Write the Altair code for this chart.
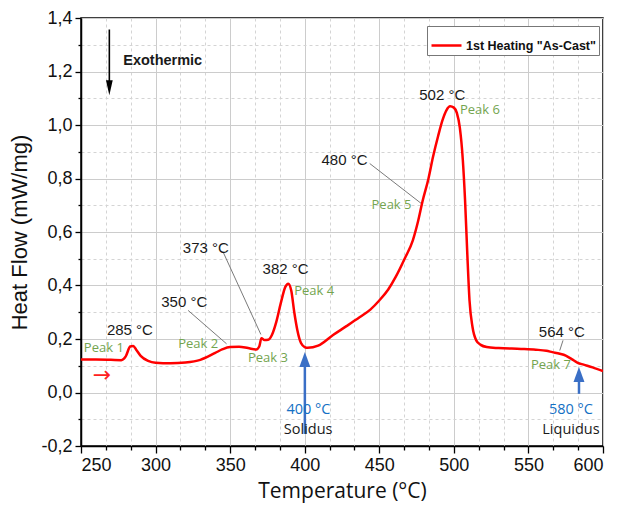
import altair as alt
import pandas as pd

# ---------------- data ----------------
temperature = [250, 260, 270, 277, 280, 283, 285, 287, 290, 295, 300, 310, 320, 330, 340, 345,
               350, 356, 362, 367.5, 369.5, 371, 373, 375.5, 378, 381, 384, 387, 389, 391, 393,
               395, 397.5, 400, 402, 409, 419, 428, 437, 444, 450, 456, 461, 467, 472.5, 476,
               479, 483, 486, 489.5, 492.5, 495, 497.5, 500, 502, 504, 506, 507.5, 509, 510.5,
               512.5, 515, 518, 522, 530, 545, 555, 562, 566, 571, 575, 579, 583, 587, 593, 600]
heat_flow = [0.123, 0.123, 0.122, 0.121, 0.135, 0.172, 0.174, 0.160, 0.137, 0.118, 0.111, 0.109,
             0.112, 0.122, 0.148, 0.162, 0.170, 0.171, 0.166, 0.161, 0.172, 0.203, 0.196, 0.197,
             0.215, 0.265, 0.335, 0.395, 0.407, 0.380, 0.300, 0.235, 0.185, 0.170, 0.167, 0.175,
             0.215, 0.248, 0.282, 0.310, 0.344, 0.385, 0.432, 0.500, 0.569, 0.640, 0.715, 0.800,
             0.880, 0.960, 1.020, 1.055, 1.070, 1.065, 1.045, 0.990, 0.870, 0.720, 0.520, 0.344,
             0.245, 0.195, 0.178, 0.170, 0.166, 0.163, 0.160, 0.156, 0.151, 0.145, 0.138, 0.125,
             0.111, 0.104, 0.094, 0.080]
series_name = '1st Heating "As-Cast"'

x_major = [250, 300, 350, 400, 450, 500, 550, 600]
y_major = [-0.2, 0.0, 0.2, 0.4, 0.6, 0.8, 1.0, 1.2, 1.4]

temp_labels = ["285 °C", "350 °C", "373 °C", "382 °C", "480 °C", "502 °C", "564 °C"]
temp_label_x = [282.8, 319.2, 333.7, 387.2, 426.7, 492.2, 572.4]
temp_label_y = [0.232, 0.338, 0.540, 0.460, 0.868, 1.111, 0.226]

peak_labels = ["Peak 1", "Peak 2", "Peak 3", "Peak 4", "Peak 5", "Peak 6", "Peak 7"]
peak_label_x = [265.3, 328.6, 375.3, 406.3, 458.2, 517.5, 565.1]
peak_label_y = [0.166, 0.180, 0.130, 0.378, 0.700, 1.055, 0.101]

blue_labels = ["400 °C", "580 °C"]
blue_label_x = [402.5, 578.5]
blue_label_y = [-0.065, -0.067]

phase_labels = ["Solidus", "Liquidus"]
phase_label_x = [402.3, 578.5]
phase_label_y = [-0.142, -0.142]

leader_x = [321.8, 345.3, 443.6, 573.2]
leader_y = [0.307, 0.525, 0.856, 0.195]
leader_x2 = [347.6, 370.6, 478.3, 571.0]
leader_y2 = [0.182, 0.217, 0.706, 0.157]

blue_arrow_x = [400.1, 583.9]
blue_arrow_y = [-0.155, -0.005]
blue_arrow_y2 = [0.100, 0.045]
blue_head_y = [0.123, 0.067]

exo_arrow_x = [269.0]
exo_arrow_y = [1.357]
exo_arrow_y2 = [1.150]
exo_head_y = [1.1396]
exo_text = ["Exothermic"]
exo_text_x = [278.3]
exo_text_y = [1.239]

red_arrow = ["→"]
red_arrow_x = [264.0]
red_arrow_y = [0.066]

# ---------------- helpers ----------------
x_minor = [v + d for v in x_major[:-1] for d in (50 / 3, 100 / 3)]
y_minor = [round(v + 0.1, 2) for v in y_major[:-1]]
x_ticks = sorted(x_major + x_minor)
y_ticks = sorted(y_major + y_minor)

x_minor_test = "abs(datum.value/50 - round(datum.value/50)) > 0.01"
y_minor_test = "abs(datum.value/0.2 - round(datum.value/0.2)) > 0.01"

x_axis = alt.Axis(
    values=x_ticks,
    title="Temperature (°C)",
    labelExpr=f"{x_minor_test} ? '' : format(datum.value, 'd')",
    tickSize={"condition": {"test": x_minor_test, "value": 4}, "value": 7},
    gridDash={"condition": {"test": x_minor_test, "value": [3, 3]}, "value": []},
    gridColor={"condition": {"test": x_minor_test, "value": "#d4d4d4"}, "value": "#cccccc"},
    titleFont="Open Sans", titleFontSize=21, titleFontWeight="normal",
    titleY=51, titleBaseline="alphabetic",
)
y_axis = alt.Axis(
    values=y_ticks,
    title="Heat Flow (mW/mg)",
    labelExpr=f"{y_minor_test} ? '' : replace(replace(format(datum.value, '.1f'), '.', ','), '\u2212', '-')",
    tickSize={"condition": {"test": y_minor_test, "value": 3}, "value": 6},
    gridDash={"condition": {"test": y_minor_test, "value": [3, 3]}, "value": []},
    gridColor={"condition": {"test": y_minor_test, "value": "#d4d4d4"}, "value": "#cccccc"},
    titleFont="Liberation Sans", titleFontSize=22, titleFontWeight="normal",
    titleX=-62, titleY=214, titleAngle=-90, titleAlign="center", titleBaseline="middle",
)

xscale = alt.Scale(domain=[250, 600], nice=False, zero=False)
yscale = alt.Scale(domain=[-0.2, 1.4], nice=False, zero=False)


def X(field="x"):
    return alt.X(f"{field}:Q", scale=xscale, axis=x_axis)


def Y(field="y"):
    return alt.Y(f"{field}:Q", scale=yscale, axis=y_axis)


curve_df = pd.DataFrame({"x": temperature, "y": heat_flow, "series": series_name})

curve = alt.Chart(curve_df).mark_line(strokeWidth=2.5, interpolate="monotone", clip=True).encode(
    x=X(), y=Y(),
    color=alt.Color(
        "series:N",
        scale=alt.Scale(domain=[series_name], range=["#ff0000"]),
        legend=alt.Legend(
            orient="none", legendX=346, legendY=8, title=None,
            symbolType="stroke", symbolSize=900, symbolStrokeWidth=2.5,
            labelFont="Liberation Sans", labelFontSize=12.5, labelFontWeight="bold",
            labelColor="#111111", strokeColor="#777777", fillColor="white",
            padding=3, labelOffset=3,
        ),
    ),
)


def text_layer(labels, xs, ys, color, font, size, weight="normal", align="center"):
    df = pd.DataFrame({"x": xs, "y": ys, "t": labels})
    return alt.Chart(df).mark_text(
        color=color, font=font, fontSize=size, fontWeight=weight, align=align, baseline="middle"
    ).encode(x=X(), y=Y(), text="t:N")


temp_text = text_layer(temp_labels, temp_label_x, temp_label_y, "#1a1a1a", "Liberation Sans", 15)
peak_text = text_layer(peak_labels, peak_label_x, peak_label_y, "#73a44f", "Open Sans", 13)
blue_text = text_layer(blue_labels, blue_label_x, blue_label_y, "#1470c4", "Open Sans", 14.5)
phase_text = text_layer(phase_labels, phase_label_x, phase_label_y, "#1a1a1a", "Open Sans", 14.5)
exo = text_layer(exo_text, exo_text_x, exo_text_y, "#1a1a1a", "Liberation Sans", 14.5, "bold", "left")
red_arr = text_layer(red_arrow, red_arrow_x, red_arrow_y, "#ff2020", "DejaVu Sans", 22)

leaders = alt.Chart(pd.DataFrame({"x": leader_x, "y": leader_y, "x2": leader_x2, "y2": leader_y2})).mark_rule(
    color="#7a7a7a", strokeWidth=1
).encode(x=X(), y=Y(), x2="x2:Q", y2="y2:Q")

blue_lines = alt.Chart(pd.DataFrame({"x": blue_arrow_x, "y": blue_arrow_y, "y2": blue_arrow_y2})).mark_rule(
    color="#3a6fc6", strokeWidth=2.5
).encode(x=X(), y=Y(), y2="y2:Q")
blue_heads = alt.Chart(pd.DataFrame({"x": blue_arrow_x, "y": blue_head_y})).mark_point(
    shape="M0,-1L0.73,1L-0.73,1Z", size=225, filled=True, color="#3a6fc6", opacity=1
).encode(x=X(), y=Y())

exo_line = alt.Chart(pd.DataFrame({"x": exo_arrow_x, "y": exo_arrow_y, "y2": exo_arrow_y2})).mark_rule(
    color="#000000", strokeWidth=1.6
).encode(x=X(), y=Y(), y2="y2:Q")
exo_head = alt.Chart(pd.DataFrame({"x": exo_arrow_x, "y": exo_head_y})).mark_point(
    shape="M0,1L0.45,-1L-0.45,-1Z", size=225, filled=True, color="#000000", opacity=1
).encode(x=X(), y=Y())

chart = alt.layer(
    leaders, blue_lines, blue_heads, exo_line, exo_head, curve,
    temp_text, peak_text, blue_text, phase_text, exo, red_arr,
).properties(
    width=522, height=428,
    autosize=alt.AutoSizeParams(type="none"),
    padding={"left": 73, "top": 10, "right": 6, "bottom": 59},
    background="white",
).configure_view(
    stroke="#000000", strokeWidth=1.5
).configure_axis(
    labelFont="Liberation Sans", labelFontSize=18, labelColor="#111111",
    domainColor="#000000", domainWidth=1.5, tickColor="#000000", tickWidth=1.3,
    labelPadding=3, grid=True, gridWidth=1, titleColor="#111111",
)

chart.save("out.html", embed_options={"renderer": "svg", "actions": False})
